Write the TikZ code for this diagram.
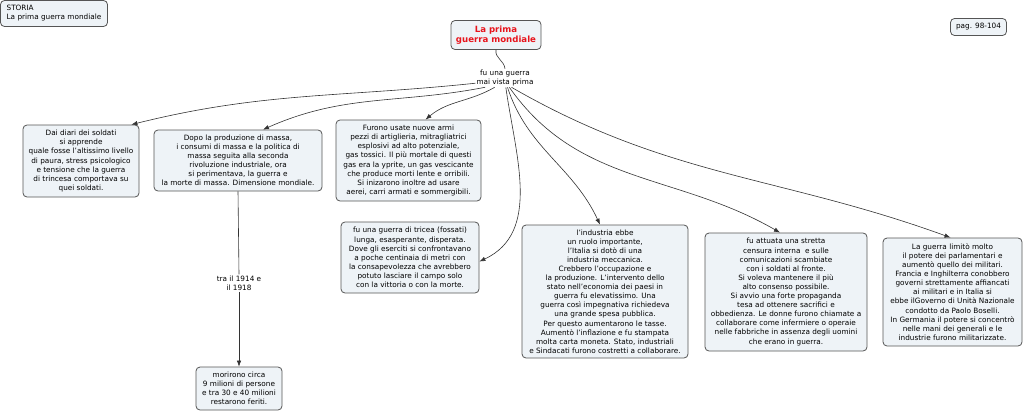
\documentclass[tikz,border=0pt]{standalone}
\usepackage{fontspec}
\setmainfont{DejaVu Sans}
\usetikzlibrary{arrows.meta}
\definecolor{boxfill}{HTML}{EEF3F7}
\definecolor{boxdraw}{HTML}{555555}
\definecolor{linecol}{HTML}{333333}
\definecolor{titlered}{HTML}{E8141C}
\tikzset{
  concept/.style={draw=boxdraw, fill=boxfill, rounded corners=4pt, line width=0.8pt,
    align=center, inner sep=2pt, font=\fontsize{7.3}{9.1}\selectfont},
  linkphrase/.style={align=center, inner sep=1pt, font=\fontsize{7.3}{9.1}\selectfont, fill=white},
  conn/.style={draw=linecol, line width=0.6pt},
  arr/.style={conn, -{Latex[length=6pt,width=4.5pt]}},
}
\begin{document}
\begin{tikzpicture}[x=1pt,y=-1pt]
\useasboundingbox (0,0) rectangle (1024,412);
% header boxes
\node[concept, align=left, minimum width=107pt, minimum height=26pt] (storia) at (54,13.5)
  {STORIA\\La prima guerra mondiale};
\node[concept, minimum width=56pt, minimum height=17pt] (pag) at (978.5,27) {pag. 98-104};
\node[concept, minimum width=90pt, minimum height=29pt, font=\fontsize{8.6}{10.5}\selectfont\bfseries, text=titlered] (title) at (496,35)
  {La prima\\guerra mondiale};
% linking phrase
\node[linkphrase] (lp) at (505,78) {fu una guerra\\mai vista prima};
% concept boxes
\node[concept, minimum width=116pt, minimum height=72pt] (b1) at (81,161)
  {Dai diari dei soldati\\si apprende\\quale fosse l'altissimo livello\\di paura, stress psicologico\\e tensione che la guerra\\di trincesa comportava su\\quei soldati.};
\node[concept, minimum width=168pt, minimum height=61pt] (b2) at (238,160.5)
  {Dopo la produzione di massa,\\i consumi di massa e la politica di\\massa seguita alla seconda\\rivoluzione industriale, ora\\si perimentava, la guerra e\\la morte di massa. Dimensione mondiale.};
\node[concept, minimum width=145pt, minimum height=81pt] (b3) at (408.5,160.5)
  {Furono usate nuove armi\\pezzi di artiglieria, mitragliatrici\\esplosivi ad alto potenziale,\\gas tossici. Il più mortale di questi\\gas era la yprite, un gas vescicante\\che produce morti lente e orribili.\\Si inizarono inoltre ad usare\\aerei, carri armati e sommergibili.};
\node[concept, minimum width=138pt, minimum height=71pt] (b4) at (410,257.5)
  {fu una guerra di tricea (fossati)\\lunga, esasperante, disperata.\\Dove gli eserciti si confrontavano\\a poche centinaia di metri con\\la consapevolezza che avrebbero\\potuto lasciare il campo solo\\con la vittoria o con la morte.};
\node[concept, minimum width=166pt, minimum height=133pt] (b5) at (605,291.5)
  {l'industria ebbe\\un ruolo importante,\\l'Italia si dotò di una\\industria meccanica.\\Crebbero l'occupazione e\\la produzione. L'intervento dello\\stato nell'economia dei paesi in\\guerra fu elevatissimo. Una\\guerra così impegnativa richiedeva\\una grande spesa pubblica.\\Per questo aumentarono le tasse.\\Aumentò l'inflazione e fu stampata\\molta carta moneta. Stato, industriali\\e Sindacati furono costretti a collaborare.};
\node[concept, minimum width=162pt, minimum height=118pt] (b6) at (786,292)
  {fu attuata una stretta\\censura interna \ e sulle\\comunicazioni scambiate\\con i soldati al fronte.\\Si voleva mantenere il più\\alto consenso possibile.\\Si avvio una forte propaganda\\tesa ad ottenere sacrifici e\\obbedienza. Le donne furono chiamate a\\collaborare come infermiere o operaie\\nelle fabbriche in assenza degli uomini\\che erano in guerra.};
\node[concept, minimum width=139pt, minimum height=108pt] (b7) at (952.5,292)
  {La guerra limitò molto\\il potere dei parlamentari e\\aumentò quello dei militari.\\Francia e Inghilterra conobbero\\governi strettamente affiancati\\ai militari e in Italia si\\ebbe ilGoverno di Unità Nazionale\\condotto da Paolo Boselli.\\In Germania il potere si concentrò\\nelle mani dei generali e le\\industrie furono militarizzate.};
\node[concept, minimum width=86pt, minimum height=43pt] (b8) at (239,388.5)
  {morirono circa\\9 milioni di persone\\e tra 30 e 40 milioni\\restarono feriti.};
\node[linkphrase] (lp2) at (239,283) {tra il 1914 e\\il 1918};
% connectors
\draw[conn] (title.south) to[out=-100,in=95] (lp.north);
\draw[arr] (lp.190) to[out=186,in=14] ([xshift=-8pt]b1.north east);
\draw[arr] (lp.205) to[out=191,in=24] ([xshift=25pt]b2.north);
\draw[arr] (lp.222) to[out=210,in=40] ([xshift=17pt]b3.north);
\draw[arr] (lp.275) to[out=-82,in=25] ([yshift=-4pt]b4.east);
\draw[arr] (lp.285) to[out=-72,in=115] ([xshift=-5pt]b5.north);
\draw[arr] (lp.295) to[out=-55,in=150] ([xshift=-6pt]b6.north);
\draw[arr] (lp.305) to[out=-30,in=160] ([xshift=-2pt]b7.north);
\draw[conn] (b2.south) -- (lp2.north);
\draw[arr] (lp2.south) -- (b8.north);
\end{tikzpicture}
\end{document}
